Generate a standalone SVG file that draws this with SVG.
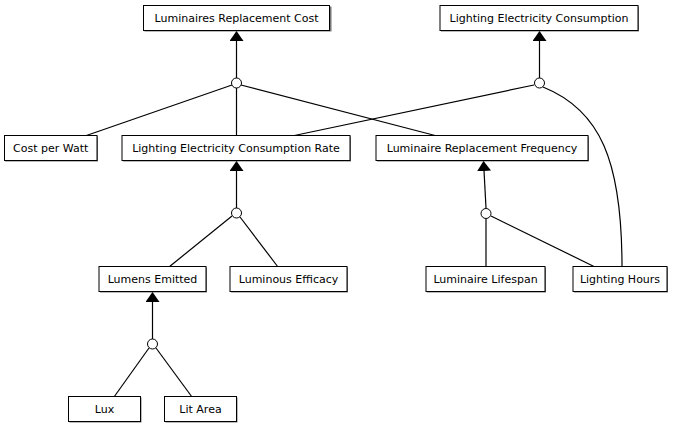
<svg xmlns="http://www.w3.org/2000/svg" width="673" height="428" viewBox="0 0 673 428">
<defs>
<style>
.box{fill:#fff;stroke:#000;stroke-width:1}
.sh{fill:#777}
.t{font-family:"DejaVu Sans","Liberation Sans",Arial,sans-serif;font-size:11px;fill:#000;text-anchor:middle}
.e{fill:none;stroke:#000;stroke-width:1.2}
.j{fill:#fff;stroke:#000;stroke-width:1}
</style>
<marker id="arr" viewBox="0 0 10 14" refX="10" refY="7" markerWidth="10" markerHeight="14" markerUnits="userSpaceOnUse" orient="auto">
<path d="M0,0 L10,7 L0,14 Z" fill="#000"/>
</marker>
</defs>
<rect width="673" height="428" fill="#fff"/>
<g id="connectors">
<line class="e" x1="236.5" y1="78" x2="236.5" y2="31" marker-end="url(#arr)"/>
<line class="e" x1="85" y1="136" x2="232" y2="85"/>
<line class="e" x1="236.5" y1="136" x2="236.5" y2="88"/>
<line class="e" x1="437" y1="136" x2="241" y2="85"/>
<line class="e" x1="292" y1="136" x2="534" y2="85"/>
<line class="e" x1="539.5" y1="78" x2="539.5" y2="31" marker-end="url(#arr)"/>
<path class="e" d="M543,87 C600,110 622,160 622,267"/>
<line class="e" x1="236.5" y1="208" x2="236.5" y2="161" marker-end="url(#arr)"/>
<line class="e" x1="169" y1="267" x2="232" y2="216"/>
<line class="e" x1="278" y1="267" x2="240" y2="217"/>
<line class="e" x1="152.5" y1="339" x2="152.5" y2="292" marker-end="url(#arr)"/>
<line class="e" x1="114" y1="397" x2="149" y2="348"/>
<line class="e" x1="192" y1="397" x2="156" y2="348"/>
<line class="e" x1="486" y1="208" x2="483.5" y2="161" marker-end="url(#arr)"/>
<line class="e" x1="486" y1="267" x2="486" y2="219"/>
<line class="e" x1="595" y1="267" x2="491" y2="216"/>
</g>
<g id="junctions">
<circle id="j1" class="j" cx="236.5" cy="83" r="5"/>
<circle id="j2" class="j" cx="539.5" cy="83" r="5"/>
<circle id="j3" class="j" cx="236.5" cy="213" r="5"/>
<circle id="j4" class="j" cx="152.5" cy="344" r="5"/>
<circle id="j5" class="j" cx="486" cy="213.5" r="5"/>
</g>
<g id="n-lrc"><rect class="sh" x="144.5" y="6.5" width="187" height="25"/><rect class="box" x="143.5" y="5.5" width="186" height="25"/><text class="t" x="236.5" y="21.5">Luminaires Replacement Cost</text></g>
<g id="n-lec"><rect class="sh" x="441" y="6.5" width="198" height="25"/><rect class="box" x="440" y="5.5" width="198" height="25"/><text class="t" x="539" y="21.5">Lighting Electricity Consumption</text></g>
<g id="n-cpw"><rect class="sh" x="5" y="136.5" width="93" height="25"/><rect class="box" x="4.5" y="135.5" width="92.5" height="25"/><text class="t" x="50.7" y="151.5">Cost per Watt</text></g>
<g id="n-lecr"><rect class="sh" x="123" y="136.5" width="228" height="25"/><rect class="box" x="122" y="135.5" width="228" height="25"/><text class="t" x="236" y="151.5">Lighting Electricity Consumption Rate</text></g>
<g id="n-lrf"><rect class="sh" x="377" y="136.5" width="212" height="25"/><rect class="box" x="376" y="135.5" width="212" height="25"/><text class="t" x="482" y="151.5">Luminaire Replacement Frequency</text></g>
<g id="n-le"><rect class="sh" x="100" y="267.5" width="107" height="25"/><rect class="box" x="99" y="266.5" width="107" height="25"/><text class="t" x="152.5" y="282.5">Lumens Emitted</text></g>
<g id="n-leff"><rect class="sh" x="231" y="267.5" width="117" height="25"/><rect class="box" x="230" y="266.5" width="117" height="25"/><text class="t" x="288.5" y="282.5">Luminous Efficacy</text></g>
<g id="n-ll"><rect class="sh" x="427" y="267.5" width="119" height="25"/><rect class="box" x="426" y="266.5" width="119" height="25"/><text class="t" x="485.5" y="282.5">Luminaire Lifespan</text></g>
<g id="n-lh"><rect class="sh" x="574" y="267.5" width="94" height="25"/><rect class="box" x="573" y="266.5" width="94" height="25"/><text class="t" x="620" y="282.5">Lighting Hours</text></g>
<g id="n-lux"><rect class="sh" x="69.5" y="397.5" width="72" height="25"/><rect class="box" x="68.5" y="396.5" width="72" height="25"/><text class="t" x="104.5" y="412.5">Lux</text></g>
<g id="n-la"><rect class="sh" x="165.5" y="397.5" width="72" height="25"/><rect class="box" x="164.5" y="396.5" width="72" height="25"/><text class="t" x="200.5" y="412.5">Lit Area</text></g>
</svg>
